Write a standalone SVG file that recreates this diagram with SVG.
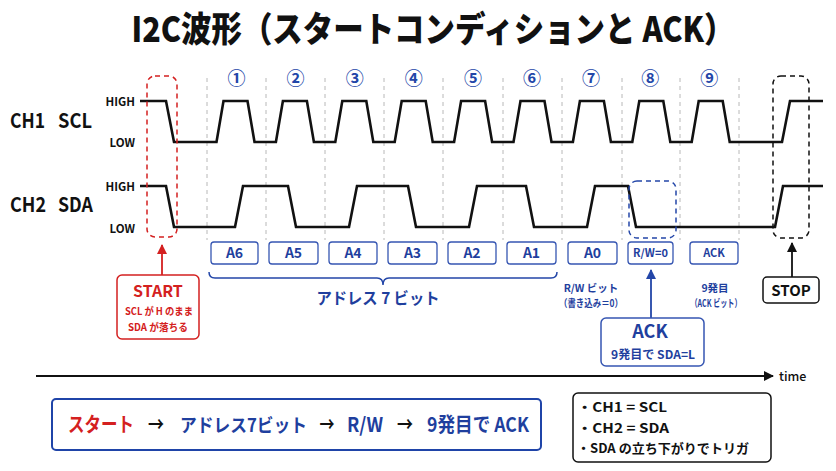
<svg xmlns="http://www.w3.org/2000/svg" width="836" height="471" viewBox="0 0 836 471">
<style>
text{font-family:"Noto Sans CJK JP","Liberation Sans",sans-serif;font-weight:700}
.wave{fill:none;stroke:#111;stroke-width:2.6;stroke-linejoin:miter}
.grid{stroke:#b8b8b8;stroke-width:1;stroke-dasharray:4 4}
.lvl{font-size:11.5px;fill:#111;text-anchor:end}
.ch{font-size:20.5px;fill:#111}
.num{font-size:18px;font-weight:700;fill:#2346a8;text-anchor:middle}
.bitbox{fill:#fff;stroke:#3656b2;stroke-width:1.3}
.bit{font-size:14px;fill:#1f3f9e;text-anchor:middle}
.bits{font-size:11px;fill:#1f3f9e;text-anchor:middle}
.blue{fill:#1f3f9e}
.red{fill:#d42020}
.mid{text-anchor:middle}
.sum{font-size:20px}
</style>
<defs>
<marker id="arR" markerWidth="10" markerHeight="10" refX="9" refY="5" orient="auto" markerUnits="userSpaceOnUse"><path d="M0,0 L10,5 L0,10 z" fill="#d42020"/></marker>
<marker id="arB" markerWidth="10" markerHeight="10" refX="9" refY="5" orient="auto" markerUnits="userSpaceOnUse"><path d="M0,0 L10,5 L0,10 z" fill="#2346a8"/></marker>
<marker id="arK" markerWidth="10" markerHeight="10" refX="9" refY="5" orient="auto" markerUnits="userSpaceOnUse"><path d="M0,0 L10,5 L0,10 z" fill="#111"/></marker>
</defs>
<rect width="836" height="471" fill="#fff"/>

<g id="title">
<text x="433" y="42" font-size="35" fill="#111" style="font-weight:900" text-anchor="middle" textLength="603" lengthAdjust="spacingAndGlyphs">I2C波形（スタートコンディションと ACK）</text>
</g>

<g id="grid">
<line class="grid" x1="207" y1="78" x2="207" y2="240"/>
<line class="grid" x1="266" y1="78" x2="266" y2="240"/>
<line class="grid" x1="325" y1="78" x2="325" y2="240"/>
<line class="grid" x1="384" y1="78" x2="384" y2="240"/>
<line class="grid" x1="443" y1="78" x2="443" y2="240"/>
<line class="grid" x1="503" y1="78" x2="503" y2="240"/>
<line class="grid" x1="562" y1="78" x2="562" y2="240"/>
<line class="grid" x1="622" y1="78" x2="622" y2="240"/>
<line class="grid" x1="680" y1="78" x2="680" y2="240"/>
<line class="grid" x1="739" y1="78" x2="739" y2="240"/>
</g>

<g id="clock-numbers">
<text class="num" x="236.5" y="84.5">①</text>
<text class="num" x="295.6" y="84.5">②</text>
<text class="num" x="354.7" y="84.5">③</text>
<text class="num" x="413.8" y="84.5">④</text>
<text class="num" x="472.9" y="84.5">⑤</text>
<text class="num" x="532" y="84.5">⑥</text>
<text class="num" x="591.1" y="84.5">⑦</text>
<text class="num" x="650.2" y="84.5">⑧</text>
<text class="num" x="709.3" y="84.5">⑨</text>
</g>

<g id="ch1-scl">
<text class="ch" y="128"><tspan x="10" textLength="35" lengthAdjust="spacingAndGlyphs">CH1</tspan><tspan x="58" textLength="34" lengthAdjust="spacingAndGlyphs">SCL</tspan></text>
<text class="lvl" x="135" y="106">HIGH</text>
<text class="lvl" x="135" y="147">LOW</text>
<path class="wave" d="M140,101 H166 L174,142 H216.5 L223.5,101 H247.5 L254.5,142 H275.9 L282.9,101 H306.9 L313.9,142 H335.3 L342.3,101 H366.3 L373.3,142 H394.7 L401.7,101 H425.7 L432.7,142 H454.1 L461.1,101 H485.1 L492.1,142 H513.5 L520.5,101 H544.5 L551.5,142 H572.9 L579.9,101 H603.9 L610.9,142 H632.3 L639.3,101 H663.3 L670.3,142 H691.7 L698.7,101 H722.7 L729.7,142 H782 L790,101 H823"/>
</g>

<g id="ch2-sda">
<text class="ch" y="212"><tspan x="10" textLength="36" lengthAdjust="spacingAndGlyphs">CH2</tspan><tspan x="58" textLength="35" lengthAdjust="spacingAndGlyphs">SDA</tspan></text>
<text class="lvl" x="135" y="191">HIGH</text>
<text class="lvl" x="135" y="233">LOW</text>
<path class="wave" d="M140,186 H166 L174,227 H235 L243,186 H288 L296,227 H349 L357,186 H408 L416,227 H469 L477,186 H526 L534,227 H587 L595,186 H628 L636,227 H775 L783,186 H823"/>
</g>

<g id="start-window">
<rect x="147" y="76" width="30" height="161" rx="8" fill="none" stroke="#d42020" stroke-width="1.5" stroke-dasharray="5 4"/>
</g>
<g id="ack-window">
<rect x="629" y="181" width="47" height="57" rx="8" fill="none" stroke="#2346a8" stroke-width="1.5" stroke-dasharray="5 4"/>
</g>
<g id="stop-window">
<rect x="773" y="76" width="36" height="162" rx="8" fill="none" stroke="#111" stroke-width="1.5" stroke-dasharray="5 4"/>
</g>

<g id="bit-A6"><rect class="bitbox" x="211" y="242" width="47" height="22" rx="3"/><text class="bit" x="234.5" y="258">A6</text></g>
<g id="bit-A5"><rect class="bitbox" x="269" y="242" width="49" height="22" rx="3"/><text class="bit" x="293.5" y="258">A5</text></g>
<g id="bit-A4"><rect class="bitbox" x="329" y="242" width="48" height="22" rx="3"/><text class="bit" x="353" y="258">A4</text></g>
<g id="bit-A3"><rect class="bitbox" x="388" y="242" width="49" height="22" rx="3"/><text class="bit" x="412.5" y="258">A3</text></g>
<g id="bit-A2"><rect class="bitbox" x="448" y="242" width="48" height="22" rx="3"/><text class="bit" x="472" y="258">A2</text></g>
<g id="bit-A1"><rect class="bitbox" x="507" y="242" width="49" height="22" rx="3"/><text class="bit" x="531.5" y="258">A1</text></g>
<g id="bit-A0"><rect class="bitbox" x="568" y="242" width="49" height="22" rx="3"/><text class="bit" x="592.5" y="258">A0</text></g>
<g id="bit-RW"><rect class="bitbox" x="628" y="242" width="45" height="22" rx="3"/><text class="bits" x="650.5" y="257">R/W=0</text></g>
<g id="bit-ACK"><rect class="bitbox" x="690" y="242" width="48" height="22" rx="3"/><text class="bits" x="714" y="257">ACK</text></g>

<g id="address-brace">
<path d="M209,272 Q209,278 215,278 H377 Q383,278 383,285 Q383,278 389,278 H551 Q557,278 557,272" fill="none" stroke="#2346a8" stroke-width="1.5"/>
<text class="blue mid" x="378" y="304" font-size="16" textLength="123" lengthAdjust="spacingAndGlyphs">アドレス 7 ビット</text>
</g>

<g id="rw-note">
<text class="blue mid" x="591" y="292" font-size="10.5">R/W ビット</text>
<text class="blue mid" x="591" y="307" font-size="10.5" textLength="64" lengthAdjust="spacingAndGlyphs">（書き込み＝0）</text>
</g>
<g id="ack-note">
<text class="blue mid" x="715" y="292" font-size="10.5">9発目</text>
<text class="blue mid" x="716" y="307" font-size="10.5" textLength="51" lengthAdjust="spacingAndGlyphs">（ACK ビット）</text>
</g>

<g id="connectors">
<line x1="162" y1="275" x2="162" y2="245" stroke="#d42020" stroke-width="1.8" marker-end="url(#arR)"/>
<line x1="651" y1="318" x2="651" y2="270" stroke="#2346a8" stroke-width="1.8" marker-end="url(#arB)"/>
<line x1="792" y1="277" x2="792" y2="243" stroke="#111" stroke-width="1.8" marker-end="url(#arK)"/>
<line x1="36" y1="376" x2="773" y2="376" stroke="#111" stroke-width="2" marker-end="url(#arK)"/>
</g>

<g id="start-box">
<rect x="117" y="275" width="82" height="64" rx="5" fill="#fff" stroke="#d42020" stroke-width="1.5"/>
<text class="red mid" x="158" y="297" font-size="16">START</text>
<text class="red mid" x="159" y="315" font-size="10.5" textLength="68" lengthAdjust="spacingAndGlyphs">SCL が H のまま</text>
<text class="red mid" x="158" y="331" font-size="10.5" textLength="60" lengthAdjust="spacingAndGlyphs">SDA が落ちる</text>
</g>

<g id="ack-box">
<rect x="601" y="318" width="103" height="48" rx="5" fill="#fff" stroke="#3656b2" stroke-width="1.5"/>
<text class="blue mid" x="650" y="338" font-size="18">ACK</text>
<text class="blue mid" x="653" y="359" font-size="12" textLength="84" lengthAdjust="spacingAndGlyphs">9発目で SDA=L</text>
</g>

<g id="stop-box">
<rect x="763" y="277" width="56" height="26" rx="4" fill="#fff" stroke="#111" stroke-width="1.5"/>
<text class="mid" x="791" y="296" font-size="15" fill="#111">STOP</text>
</g>

<g id="time-label">
<text x="779" y="381" font-size="12.5" fill="#111" style="font-weight:500">time</text>
</g>

<g id="summary">
<rect x="52" y="399" width="489" height="51" rx="4" fill="#fff" stroke="#1f44a8" stroke-width="2"/>
<text class="sum red" x="68" y="432" textLength="66" lengthAdjust="spacingAndGlyphs">スタート</text>
<text class="sum" x="156" y="432" fill="#111" text-anchor="middle" textLength="16" lengthAdjust="spacingAndGlyphs">→</text>
<text class="blue" x="180" y="432" font-size="18.5" textLength="127" lengthAdjust="spacingAndGlyphs">アドレス7ビット</text>
<text class="sum" x="327" y="432" fill="#111" text-anchor="middle" textLength="15" lengthAdjust="spacingAndGlyphs">→</text>
<text class="sum blue" x="347" y="432" textLength="36" lengthAdjust="spacingAndGlyphs">R/W</text>
<text class="sum" x="405" y="432" fill="#111" text-anchor="middle" textLength="16" lengthAdjust="spacingAndGlyphs">→</text>
<text class="sum blue" x="427" y="432" textLength="102" lengthAdjust="spacingAndGlyphs">9発目で ACK</text>
</g>

<g id="legend">
<rect x="573" y="393" width="198" height="69" rx="5" fill="#fff" stroke="#111" stroke-width="1.5"/>
<text x="577" y="412" font-size="13" fill="#111" textLength="90" lengthAdjust="spacingAndGlyphs">・CH1 = SCL</text>
<text x="577" y="433" font-size="13" fill="#111" textLength="92" lengthAdjust="spacingAndGlyphs">・CH2 = SDA</text>
<text x="577" y="453" font-size="13" fill="#111" textLength="172" lengthAdjust="spacingAndGlyphs">・SDA の立ち下がりでトリガ</text>
</g>
</svg>
